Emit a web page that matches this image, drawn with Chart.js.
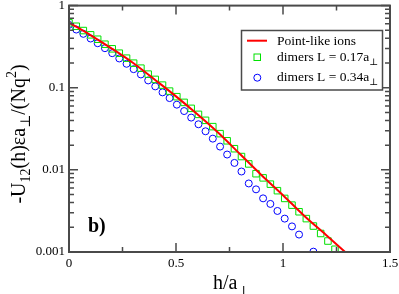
<!DOCTYPE html>
<html>
<head>
<meta charset="utf-8">
<script src="https://cdn.jsdelivr.net/npm/chart.js@4/dist/chart.umd.min.js"></script>
<style>
html,body{margin:0;padding:0;background:#fff;}
canvas{display:block;}
</style>
</head>
<body>
<canvas id="c" width="399" height="294"></canvas>
<script>
// ---- data ----
const hLine = [0, 0.1, 0.2, 0.3, 0.4, 0.5, 0.6, 0.7, 0.8, 0.9, 1.0, 1.1, 1.2, 1.3];
const uLine = [0.621, 0.438, 0.300, 0.200, 0.126, 0.0785, 0.0475, 0.0279, 0.0155, 0.0086, 0.00492, 0.00274, 0.00162, 0.00095];

const hPts = [0, 0.034, 0.067, 0.101, 0.134, 0.168, 0.202, 0.235, 0.269, 0.302, 0.336, 0.370, 0.403, 0.437, 0.470, 0.504, 0.538, 0.571, 0.605, 0.638, 0.672, 0.706, 0.739, 0.773, 0.806, 0.840, 0.874, 0.907, 0.941, 0.974, 1.008, 1.042, 1.075, 1.109, 1.142, 1.176, 1.210, 1.243];
const uDimer017 = [0.6165, 0.5605, 0.4969, 0.4406, 0.3896, 0.3388, 0.2978, 0.2634, 0.2291, 0.1991, 0.1731, 0.1464, 0.1263, 0.1076, 0.0910, 0.0778, 0.0663, 0.0561, 0.0474, 0.0401, 0.0336, 0.0276, 0.0226, 0.0181, 0.01453, 0.01181, 0.00898, 0.00799, 0.00670, 0.00558, 0.00449, 0.00372, 0.00309, 0.00255, 0.00207, 0.00168, 0.00136, 0.00108];
const uDimer034 = [0.5828, 0.5110, 0.4531, 0.3973, 0.3483, 0.3029, 0.2634, 0.2272, 0.1957, 0.1684, 0.1451, 0.1227, 0.1038, 0.0878, 0.0748, 0.0622, 0.0520, 0.0433, 0.0359, 0.0295, 0.0240, 0.0192, 0.01537, 0.01215, 0.00955, 0.00683, 0.00579, 0.00450, 0.00385, 0.00316, 0.00255, 0.00205, 0.00163, null, 0.00101];

const xTicks = [0, 0.5, 1, 1.5];
const xTickLabels = ['0', '0.5', '1', '1.5'];
const yTicks = [0.001, 0.01, 0.1, 1];
const yTickLabels = ['0.001', '0.01', '0.1', '1'];
const seriesNames = ['Point-like ions', 'dimers L = 0.17a', 'dimers L = 0.34a'];

const RED = 'rgb(255,0,0)', GREEN = 'rgb(0,225,0)', BLUE = 'rgb(0,0,255)';
const FRAME = '#4a4a4a';
const SERIF = "'Liberation Serif', 'DejaVu Serif', serif";

function pts(xs, ys) { return ys.map((y, i) => ({x: xs[i], y: y})); }

// draw a run of text segments [text, size, dy, bold]
function runWidth(ctx, segs) {
  let w = 0;
  for (const s of segs) { ctx.font = (s[3] ? 'bold ' : '') + s[1] + 'px ' + SERIF; w += ctx.measureText(s[0]).width; }
  return w;
}
function drawRun(ctx, segs, x, y) {
  for (const s of segs) {
    ctx.font = (s[3] ? 'bold ' : '') + s[1] + 'px ' + SERIF;
    ctx.fillText(s[0], x, y + s[2]);
    x += ctx.measureText(s[0]).width;
  }
}

const decor = {
  id: 'decor',
  afterDraw(chart) {
    const ctx = chart.ctx, a = chart.chartArea;
    const xs = chart.scales.x, ys = chart.scales.y;
    ctx.save();
    ctx.strokeStyle = FRAME;
    ctx.lineWidth = 1.5;
    // ticks
    ctx.beginPath();
    const yMinor = [];
    for (let e = -3; e < 0; e++) for (let m = 2; m <= 9; m++) yMinor.push(m * Math.pow(10, e));
    for (const v of yTicks) {
      const p = ys.getPixelForValue(v);
      ctx.moveTo(a.left, p); ctx.lineTo(a.left + 9, p);
      ctx.moveTo(a.right, p); ctx.lineTo(a.right - 9, p);
    }
    for (const v of yMinor) {
      const p = ys.getPixelForValue(v);
      ctx.moveTo(a.left, p); ctx.lineTo(a.left + 5, p);
      ctx.moveTo(a.right, p); ctx.lineTo(a.right - 5, p);
    }
    for (const v of xTicks) {
      const p = xs.getPixelForValue(v);
      ctx.moveTo(p, a.bottom); ctx.lineTo(p, a.bottom - 9);
      ctx.moveTo(p, a.top); ctx.lineTo(p, a.top + 9);
    }
    for (const v of [0.25, 0.75, 1.25]) {
      const p = xs.getPixelForValue(v);
      ctx.moveTo(p, a.bottom); ctx.lineTo(p, a.bottom - 5);
      ctx.moveTo(p, a.top); ctx.lineTo(p, a.top + 5);
    }
    ctx.stroke();
    ctx.lineWidth = 2;
    ctx.strokeRect(a.left, a.top, a.right - a.left, a.bottom - a.top);

    // legend
    ctx.fillStyle = '#fff';
    ctx.fillRect(241.5, 30.5, 141, 59.5);
    ctx.lineWidth = 1.5;
    ctx.strokeStyle = FRAME;
    ctx.strokeRect(241.5, 30.5, 141, 59.5);
    ctx.strokeStyle = RED; ctx.lineWidth = 2;
    ctx.beginPath(); ctx.moveTo(247, 40.7); ctx.lineTo(267, 40.7); ctx.stroke();
    ctx.strokeStyle = GREEN; ctx.lineWidth = 1;
    ctx.strokeRect(254, 54, 6.5, 6.5);
    ctx.strokeStyle = BLUE;
    ctx.beginPath(); ctx.arc(257.3, 77.7, 3.5, 0, Math.PI * 2); ctx.stroke();
    ctx.fillStyle = '#000';
    ctx.textAlign = 'left'; ctx.textBaseline = 'alphabetic';
    drawRun(ctx, [[seriesNames[0], 13.5, 0]], 277, 45);
    drawRun(ctx, [[seriesNames[1], 13.5, 0], ['\u22A5', 9.5, 4]], 277, 61);
    drawRun(ctx, [[seriesNames[2], 13.5, 0], ['\u22A5', 9.5, 4]], 277, 81);

    // panel label
    drawRun(ctx, [['b)', 20, 0, true]], 88, 232);

    // x title
    drawRun(ctx, [['h/a', 20, 0], ['\u22A5', 13, 6]], 213, 289);

    // y title
    const ySegs = [['-U', 20, 0], ['12', 14, 5], ['(h)\u03B5a', 20, 0], ['\u22A5', 14, 5], ['/(Nq', 20, 0], ['2', 14, -9], [')', 20, 0]];
    ctx.translate(25, 134);
    ctx.rotate(-Math.PI / 2);
    const w = runWidth(ctx, ySegs);
    drawRun(ctx, ySegs, -w / 2, 0);
    ctx.restore();
  }
};

new Chart(document.getElementById('c'), {
  type: 'scatter',
  data: {
    datasets: [
      { label: seriesNames[0], data: pts(hLine, uLine), showLine: true, borderColor: RED, borderWidth: 2,
        pointRadius: 0, cubicInterpolationMode: 'monotone', fill: false },
      { label: seriesNames[1], data: pts(hPts, uDimer017), showLine: false, pointStyle: 'rect', pointRadius: 4.6,
        borderColor: GREEN, backgroundColor: 'rgba(0,0,0,0)', borderWidth: 1 },
      { label: seriesNames[2], data: pts(hPts, uDimer034), showLine: false, pointStyle: 'circle', pointRadius: 3.5,
        borderColor: BLUE, backgroundColor: 'rgba(0,0,0,0)', borderWidth: 1 }
    ]
  },
  options: {
    responsive: false,
    animation: false,
    devicePixelRatio: 1,
    layout: { padding: { left: 0, right: 9, top: 5, bottom: 0 } },
    plugins: { legend: { display: false }, tooltip: { enabled: false } },
    scales: {
      x: {
        type: 'linear', min: 0, max: 1.5,
        grid: { display: false, drawTicks: false }, border: { display: false },
        afterBuildTicks(s) { s.ticks = xTicks.map(v => ({ value: v })); },
        ticks: { padding: 4, autoSkip: false, maxRotation: 0, color: '#000',
          font: { family: SERIF, size: 13 },
          callback: (v) => xTickLabels[xTicks.indexOf(v)] },
        afterFit(s) { s.height = 42; s.paddingLeft = 0; s.paddingRight = 0; }
      },
      y: {
        type: 'logarithmic', min: 0.001, max: 1,
        grid: { display: false, drawTicks: false }, border: { display: false },
        afterBuildTicks(s) { s.ticks = yTicks.map(v => ({ value: v })); },
        ticks: { padding: 4, autoSkip: false, color: '#000',
          font: { family: SERIF, size: 13 },
          callback: (v) => yTickLabels[yTicks.indexOf(v)] },
        afterFit(s) { s.width = 69; s.paddingTop = 0; s.paddingBottom = 0; }
      }
    }
  },
  plugins: [decor]
});
</script>
</body>
</html>
